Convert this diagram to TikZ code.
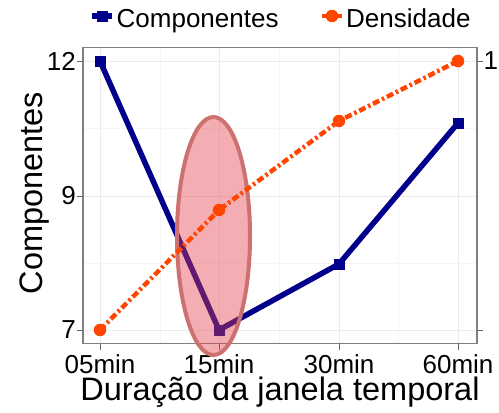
\documentclass[tikz,border=0pt]{standalone}
\usepackage{fontspec}
\setmainfont{Liberation Sans}
\usetikzlibrary{shapes.geometric}
\definecolor{cblue}{HTML}{00008B}
\definecolor{corange}{HTML}{FF4500}
\definecolor{gmaj}{HTML}{EBEBEB}
\definecolor{gmin}{HTML}{F5F5F5}
\definecolor{hlfill}{HTML}{E5404A}
\definecolor{hldraw}{HTML}{CD7070}
\definecolor{frame}{HTML}{7F7F7F}
\begin{document}
\begin{tikzpicture}[x=1pt,y=-1pt,
  compline/.style={draw=cblue, line width=5.5pt, line join=round},
  densline/.style={draw=corange, line width=4.5pt, dash pattern=on 7pt off 3pt on 2.5pt off 3pt},
  sqmark/.style={rectangle, fill=cblue, minimum size=11pt, inner sep=0pt},
  cimark/.style={circle, fill=corange, minimum size=12.5pt, inner sep=0pt},
  ticklab/.style={font=\fontsize{26}{28}\selectfont, inner sep=0pt},
  titlelab/.style={font=\fontsize{32.5}{36}\selectfont, inner sep=0pt},
  majgrid/.style={draw=gmaj, line width=1pt},
  mingrid/.style={draw=gmin, line width=0.6pt},
  tickmark/.style={draw=frame!80!black, line width=1pt},
  hlstyle/.style={ellipse, draw=hldraw, line width=4pt, fill=hlfill, fill opacity=0.42, minimum width=73pt, minimum height=238pt, inner sep=0pt}
]
\useasboundingbox (0,0) rectangle (499,413);
\fill[white] (0,0) rectangle (499,413);
% grid
\foreach \yy in {128.5,263} \draw[mingrid] (83,\yy) -- (477,\yy);
\foreach \xx in {160,279,398} \draw[mingrid] (\xx,47.5) -- (\xx,343.5);
\foreach \yy in {61,196,330} \draw[majgrid] (83,\yy) -- (477,\yy);
\foreach \xx in {100,219,339,458} \draw[majgrid] (\xx,47.5) -- (\xx,343.5);
% frame
\draw[frame, line width=1.2pt] (83,47.5) rectangle (477,343.5);
% ticks
\foreach \yy in {61,196,330} \draw[tickmark] (77,\yy) -- (83,\yy);
\foreach \yy in {61,330} \draw[tickmark] (477,\yy) -- (483,\yy);
\foreach \xx in {100,219,339,458} \draw[tickmark] (\xx,343.5) -- (\xx,349.5);
% tick labels
\node[ticklab, anchor=east] (l12) at (76,61) {12};
\node[ticklab, anchor=east] (l9) at (76,196) {9};
\node[ticklab, anchor=east] (l7) at (76,330) {7};
\node[ticklab, anchor=west] (r1) at (483.5,61) {1};
\node[ticklab] (x05) at (100,364) {05min};
\node[ticklab] (x15) at (219,364) {15min};
\node[ticklab] (x30) at (339,364) {30min};
\node[ticklab] (x60) at (458,364) {60min};
% titles
\node[titlelab, anchor=base] (xt) at (280,400) {Duração da janela temporal};
\node[titlelab, rotate=90, anchor=base] (yt) at (42,193) {Componentes};
% data points
\coordinate (c1) at (100,61);
\coordinate (c2) at (219,330);
\coordinate (c3) at (339,264);
\coordinate (c4) at (458,123);
\coordinate (d1) at (100,330);
\coordinate (d2) at (219,210);
\coordinate (d3) at (339,121);
\coordinate (d4) at (458,61);
% Componentes
\draw[compline] (c1) -- (c2) -- (c3) -- (c4);
\foreach \p in {c1,c2,c3,c4} \node[sqmark] (m\p) at (\p) {};
% highlight
\node[hlstyle] (hl) at (213.5,236) {};
% Densidade
\draw[densline] (d1) -- (d2) -- (d3) -- (d4);
\foreach \p in {d1,d2,d3,d4} \node[cimark] (m\p) at (\p) {};
% legend
\coordinate (k1a) at (92,16);
\coordinate (k1b) at (112,16);
\draw[compline] (k1a) -- (k1b);
\node[sqmark] (k1m) at (102,16) {};
\node[ticklab, anchor=base west] (k1t) at (116.5,27) {Componentes};
\coordinate (k2a) at (322,16);
\coordinate (k2b) at (342,16);
\draw[densline, dash pattern=on 20pt off 0pt] (k2a) -- (k2b);
\node[cimark] (k2m) at (332,16) {};
\node[ticklab, anchor=base west] (k2t) at (346,27) {Densidade};
\end{tikzpicture}
\end{document}
